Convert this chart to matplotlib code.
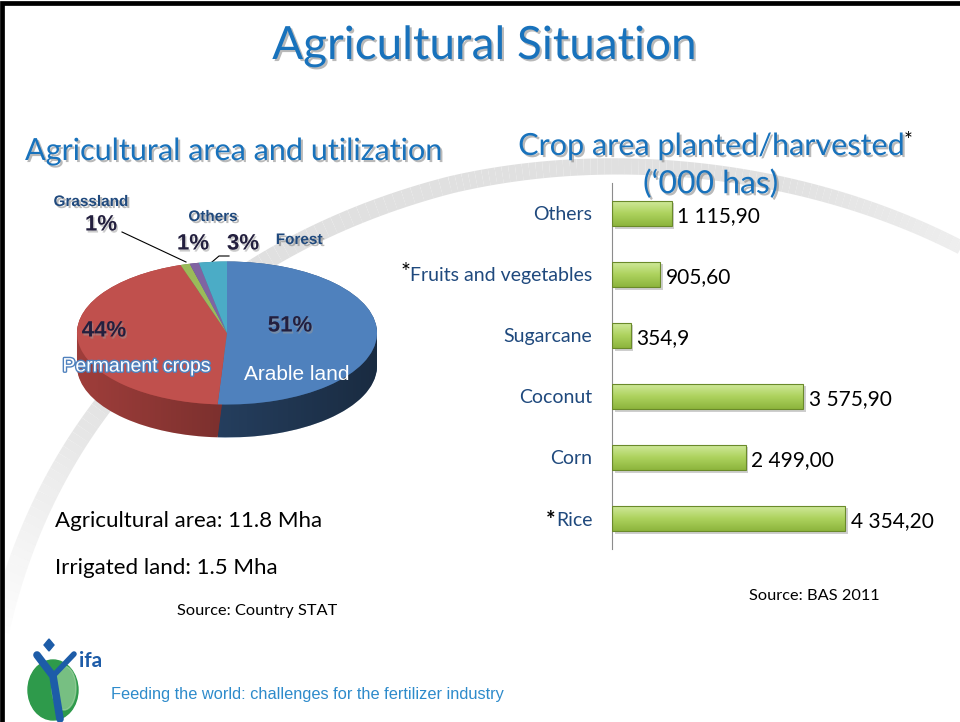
import matplotlib
matplotlib.use("Agg")
import matplotlib.pyplot as plt
import matplotlib.patheffects as pe
from matplotlib.colors import LinearSegmentedColormap
from matplotlib.collections import LineCollection
from matplotlib.patches import Ellipse, Polygon
from matplotlib import transforms
import numpy as np

W, H = 960, 722

# pie: agricultural area and utilization (%)
land_names = ["Arable land", "Permanent crops", "Grassland", "Others", "Forest"]
land_share = [51, 44, 1, 1, 3]
top_colors = ["#4F81BD", "#C0504D", "#9BBB59", "#8064A2", "#4BACC6"]
side_colors = ["#30517A", "#A23F3C", "#77913F", "#5E4A7A", "#33869E"]

# bars: crop area planted/harvested ('000 has), listed top to bottom
crops = ["Others", "Fruits and vegetables", "Sugarcane", "Coconut", "Corn", "Rice"]
crop_area = [1115.90, 905.60, 354.9, 3575.90, 2499.00, 4354.20]
crop_labels = ["1 115,90", "905,60", "354,9", "3 575,90", "2 499,00", "4 354,20"]

title_blue = "#1872BC"
label_blue = "#1F497D"
font = ["Lato", "DejaVu Sans"]
arial = ["Liberation Sans", "DejaVu Sans"]
shadow = [pe.withSimplePatchShadow(offset=(1.5, -1.5), shadow_rgbFace="#808080", alpha=0.55)]


def box(x0, y0, x1, y1):
    # pixel box (top-left origin) -> figure fraction rect
    return [x0 / W, 1 - y1 / H, (x1 - x0) / W, (y1 - y0) / H]


def bezier(p0, p1, p2, p3, num=80):
    s = np.linspace(0, 1, num)[:, None]
    p0, p1, p2, p3 = map(np.array, (p0, p1, p2, p3))
    return (1 - s) ** 3 * p0 + 3 * (1 - s) ** 2 * s * p1 + 3 * (1 - s) * s ** 2 * p2 + s ** 3 * p3


fig = plt.figure(figsize=(9.6, 7.22), dpi=100)
bg = fig.add_axes([0, 0, 1, 1], zorder=0)
fg = fig.add_axes([0, 0, 1, 1], zorder=2)
for a in (bg, fg):
    a.set_xlim(0, W)
    a.set_ylim(H, 0)
    a.axis("off")
fg.patch.set_alpha(0)

# swoosh in the background, fading at both ends
pts = np.vstack([bezier((-5, 650), (40, 420), (200, 250), (450, 185)),
                 bezier((450, 185), (620, 145), (820, 170), (975, 255))[1:]])
segs = np.stack([pts[:-1], pts[1:]], axis=1)
s = np.linspace(0, 1, len(segs))
alpha = np.clip(s / 0.22, 0, 1) * (1 - 0.5 * np.clip((s - 0.8) / 0.2, 0, 1))
cols = np.zeros((len(segs), 4))
cols[:, :3] = 0.88
cols[:, 3] = alpha
bg.add_collection(LineCollection(segs, colors=cols, linewidths=15 - 5 * s, capstyle="butt"))

# slide frame (left and top)
bg.plot([2, 2, 960], [722, 2.5, 2.5], color="black", lw=3.4, solid_joinstyle="miter")

# titles
bg.text(485, 46, "Agricultural Situation", ha="center", va="center", fontsize=33,
        color=title_blue, family=font, path_effects=shadow)
bg.text(25, 151, "Agricultural area and utilization", ha="left", va="center", fontsize=22,
        color=title_blue, family=font, path_effects=shadow)
bg.text(711, 146, "Crop area planted/harvested", ha="center", va="center", fontsize=22,
        color=title_blue, family=font, path_effects=shadow)
bg.text(904, 141, "*", ha="left", va="center", fontsize=15, color="black", family=font)
bg.text(711, 184, "(\u2018000 has)", ha="center", va="center", fontsize=23,
        color=title_blue, family=font, path_effects=shadow)

# notes
bg.text(55, 521, "Agricultural area: 11.8 Mha", ha="left", va="center", fontsize=16, family=font)
bg.text(55, 568, "Irrigated land: 1.5 Mha", ha="left", va="center", fontsize=16, family=font)
bg.text(257, 611, "Source: Country STAT", ha="center", va="center", fontsize=11.8, family=font)
bg.text(814, 596, "Source: BAS 2011", ha="center", va="center", fontsize=11.8, family=font)

# footer + logo
bg.add_patch(Ellipse((53, 690), 50, 60, color="#2E9A4B"))
bg.add_patch(Ellipse((64, 688), 24, 44, color="#A8D8A8", alpha=0.6))
bg.plot([37, 53, 60], [655, 676, 719], color="#1D5CA8", lw=5.5, solid_capstyle="round")
bg.plot([53, 74], [676, 654], color="#1D5CA8", lw=4, solid_capstyle="round")
bg.add_patch(Polygon([(49, 639), (54, 645), (49, 651), (44, 645)], color="#1D5CA8"))
bg.text(79, 661, "ifa", ha="left", va="center", fontsize=15, fontweight="bold",
        color="#1D5CA8", family=font)
bg.text(111, 694, "Feeding the world: challenges for the fertilizer industry", ha="left",
        va="center", fontsize=11.8, color="#2E8BCB", family=arial)

# ---- 3D-looking pie ----
pax = fig.add_axes(box(52, 230, 402, 470), zorder=1)
depth = 33 / 71.5
n = 30
for k in range(n):
    pax.pie(land_share, colors=side_colors, startangle=90, counterclock=False,
            center=(0, -depth * k / (n - 1)), wedgeprops=dict(lw=0, zorder=1))
pax.pie(land_share, colors=top_colors, startangle=90, counterclock=False,
        wedgeprops=dict(lw=0, zorder=3))

t = np.linspace(np.pi, 2 * np.pi, 120)
side_poly = np.vstack([np.c_[np.cos(t), np.sin(t)],
                       np.c_[np.cos(t[::-1]), np.sin(t[::-1]) - depth]])
shade = np.zeros((1, 256, 4))
shade[..., 3] = 0.02 + 0.45 * np.linspace(0, 1, 256)
im = pax.imshow(shade, extent=(-1, 1, -1 - depth, 0), aspect="auto", zorder=2,
                interpolation="bilinear")
im.set_clip_path(Polygon(side_poly, transform=pax.transData))
pax.set_aspect("auto")
pax.set_xlim(-175 / 150, 175 / 150)
pax.set_ylim(-137 / 71.5, 103 / 71.5)
pax.axis("off")

# pie labels
pct = [f"{v}%" for v in land_share]
pct_style = dict(ha="center", va="center", fontsize=16, fontweight="bold", color="#231F3E",
                 family=arial,
                 path_effects=[pe.withSimplePatchShadow(offset=(1, -1.5), shadow_rgbFace="#999999", alpha=0.5)])
name_style = dict(ha="center", va="center", fontsize=11, fontweight="bold", color=label_blue,
                  family=arial, path_effects=shadow)
fg.text(290, 326, pct[0], **pct_style)
fg.text(104, 331, pct[1], **pct_style)
fg.text(101, 225, pct[2], **pct_style)
fg.text(193, 244, pct[3], **pct_style)
fg.text(243, 244, pct[4], **pct_style)
fg.text(297, 374, land_names[0], ha="center", va="center", fontsize=15, color="white",
        family=arial)
fg.text(137, 367, land_names[1], ha="center", va="center", fontsize=14, color="white",
        family=arial, path_effects=[pe.withStroke(linewidth=2, foreground="#4F81BD")])
fg.text(91, 202, land_names[2], **name_style)
fg.text(213, 217, land_names[3], **name_style)
fg.text(299, 240, land_names[4], **name_style)
bg.plot([122, 186], [232, 262], color="black", lw=0.8)
bg.plot([212, 219, 229], [262, 256, 256], color="black", lw=0.8)

# ---- bar chart ----
bax = fig.add_axes(box(612, 183, 879.6, 549), zorder=1)
bax.patch.set_alpha(0)
nb = len(crops)
ypos = [nb - 1 - i for i in range(nb)]
shadow_tr = transforms.offset_copy(bax.transData, fig=fig, x=2.5, y=-2.5, units="dots")
bax.barh(ypos, crop_area, height=0.41, color="#A6A6A6", alpha=0.55, lw=0, zorder=1,
         transform=shadow_tr)
bars = bax.barh(ypos, crop_area, height=0.41, color="none", edgecolor="#6A8A2A", lw=0.8, zorder=3)
green = LinearSegmentedColormap.from_list("g", ["#D2EA9F", "#AED35F", "#8DB53D"])
grad = np.linspace(0, 1, 64).reshape(-1, 1)
for b in bars:
    x0, y0, bw, bh = b.get_x(), b.get_y(), b.get_width(), b.get_height()
    gi = bax.imshow(grad, cmap=green, extent=(x0, x0 + bw, y0, y0 + bh), aspect="auto",
                    zorder=2, interpolation="bilinear")
    gi.set_clip_path(b)
for y, v, lab in zip(ypos, crop_area, crop_labels):
    bax.annotate(lab, (v, y - 0.05), xytext=(4, 0), textcoords="offset points",
                 ha="left", va="center", fontsize=15, family=font)

bax.set_xlim(0, 5000)
bax.set_ylim(-0.5, nb - 0.5)
bax.set_yticks(range(nb))
bax.set_yticklabels(crops[::-1], color=label_blue, fontsize=14, family=font)
bax.tick_params(axis="y", length=0, pad=14)
bax.set_xticks([])
for sp in ["top", "right", "bottom"]:
    bax.spines[sp].set_visible(False)
bax.spines["left"].set_color("#8C8C8C")
bax.spines["left"].set_linewidth(0.8)

# asterisks in front of starred categories
ticklabels = dict(zip(crops[::-1], bax.get_yticklabels()))
bax.annotate("*", xy=(0, 1.3), xycoords=ticklabels["Fruits and vegetables"], ha="right",
             va="top", fontsize=17, family=font)
bax.annotate("*", xy=(-0.03, 0.5), xycoords=ticklabels["Rice"], ha="right",
             va="center", fontsize=16, fontweight="bold", family=font)

fig.savefig("out.png", dpi=100)
